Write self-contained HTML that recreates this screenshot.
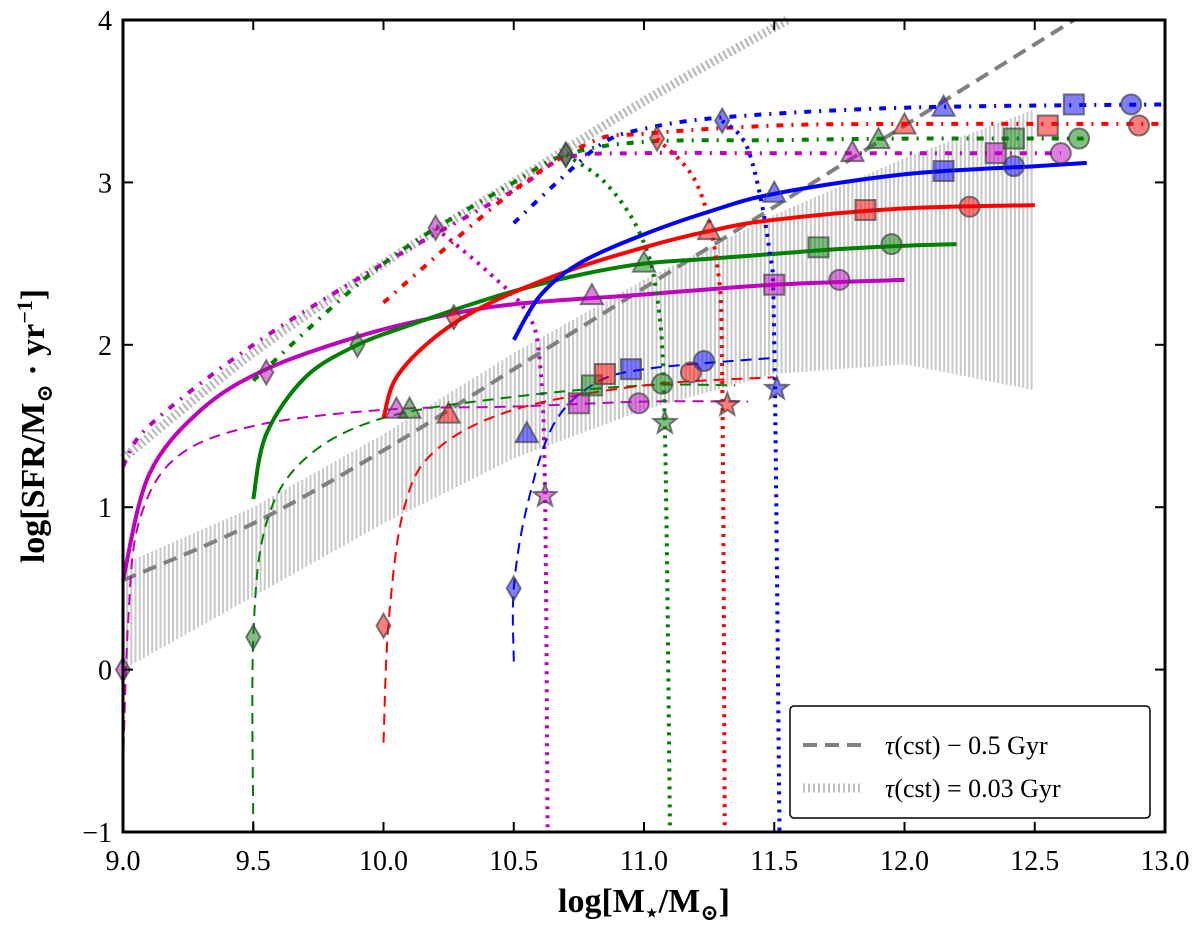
<!DOCTYPE html>
<html><head><meta charset="utf-8"><style>
html,body{margin:0;padding:0;background:#fff;}
svg{display:block;font-family:"Liberation Serif","DejaVu Serif",serif;}
</style></head><body>
<svg id="chart" width="1200" height="929" viewBox="0 0 1200 929" xmlns="http://www.w3.org/2000/svg">
<g id="band"></g>
<g id="lines"></g>
<g id="marks"></g>
<rect x="123" y="20" width="1042" height="812" fill="none" stroke="#000" stroke-width="3"/>
<g id="ticks"></g>
<text x="644" y="912" text-anchor="middle" font-size="34" font-weight="bold">log[M<tspan font-size="22" dy="8">⋆</tspan><tspan dy="-8">/M</tspan><tspan font-size="22" dy="8">⊙</tspan><tspan dy="-8">]</tspan></text>
<text transform="translate(44,426) rotate(-90)" text-anchor="middle" font-size="34" font-weight="bold">log[SFR/M<tspan font-size="22" dy="8">⊙</tspan><tspan dy="-8"> · yr</tspan><tspan font-size="22" dy="-12">−1</tspan><tspan dy="12">]</tspan></text>
<g>
<rect x="790" y="706" width="360" height="112" rx="4" fill="#fff" stroke="#000" stroke-width="1.5"/>
<line x1="803" y1="745" x2="863" y2="745" stroke="#808080" stroke-width="4" stroke-dasharray="14,8"/>
<text x="885" y="754" font-size="26"><tspan font-style="italic">τ</tspan>(cst) − 0.5 Gyr</text>
<line x1="803" y1="788" x2="863" y2="788" stroke="#c0c0c0" stroke-width="9" stroke-dasharray="2,3"/>
<text x="885" y="797" font-size="26"><tspan font-style="italic">τ</tspan>(cst) = 0.03 Gyr</text>
</g>
</svg>
<script>
// ---- data ----
const xTicks = [9.0, 9.5, 10.0, 10.5, 11.0, 11.5, 12.0, 12.5, 13.0];
const xTickLabels = ["9.0","9.5","10.0","10.5","11.0","11.5","12.0","12.5","13.0"];
const yTicks = [-1, 0, 1, 2, 3, 4];
const yTickLabels = ["−1","0","1","2","3","4"];
const bandX = [9.0, 9.5, 10.0, 10.5, 11.0, 11.5, 12.0, 12.5];
const bandLow = [0.0, 0.45, 0.9, 1.3, 1.6, 1.82, 1.88, 1.72];
const bandHigh = [0.65, 1.0, 1.45, 1.95, 2.4, 2.8, 3.15, 3.45];
const grayDashed = [[9.0,0.55],[9.5,0.9],[10,1.35],[10.5,1.85],[11,2.35],[11.5,2.85],[12,3.35],[12.65,4.0]];
const grayDotted = [[9.0,1.3],[9.5,1.95],[10,2.5],[10.5,3.0],[11,3.5],[11.55,4.0]];
const colors = {m:"#bf00bf", g:"#008000", r:"#ff0000", b:"#0000ff"};
const solid = {
 m:[[9.0,0.55],[9.1,1.2],[9.3,1.6],[9.55,1.85],[9.9,2.05],[10.2,2.17],[10.5,2.25],[11,2.31],[11.5,2.37],[12,2.4]],
 g:[[9.5,1.05],[9.55,1.45],[9.7,1.8],[9.9,2.0],[10.1,2.12],[10.3,2.23],[10.5,2.33],[10.75,2.43],[11,2.5],[11.25,2.53],[11.5,2.56],[11.75,2.59],[12,2.61],[12.2,2.62]],
 r:[[10,1.55],[10.05,1.8],[10.2,2.05],[10.4,2.25],[10.7,2.45],[11,2.6],[11.25,2.7],[11.5,2.77],[12,2.84],[12.5,2.86]],
 b:[[10.5,2.03],[10.6,2.3],[10.75,2.5],[11,2.68],[11.25,2.82],[11.5,2.93],[12,3.05],[12.5,3.1],[12.7,3.12]]
};
const dashdot = {
 m:[[9.0,1.25],[9.1,1.5],[9.5,2.0],[10,2.5],[10.5,2.95],[10.7,3.15],[11,3.18],[11.5,3.18],[12.6,3.18]],
 g:[[9.5,1.78],[10,2.5],[10.5,3.0],[10.7,3.17],[11,3.25],[11.5,3.26],[12,3.27],[12.7,3.27]],
 r:[[10,2.26],[10.5,2.95],[10.8,3.25],[11,3.3],[11.5,3.35],[12,3.36],[13,3.36]],
 b:[[10.5,2.75],[10.7,3.05],[10.85,3.25],[11,3.33],[11.3,3.4],[12,3.46],[13,3.48]]
};
const dotted = {
 m:[[10.2,2.72],[10.4,2.45],[10.55,2.2],[10.6,1.9],[10.62,1.1],[10.63,-1]],
 g:[[10.7,3.17],[10.85,3.0],[10.98,2.7],[11.05,2.3],[11.08,1.5],[11.1,-1]],
 r:[[11.05,3.27],[11.2,3.0],[11.28,2.5],[11.3,1.8],[11.31,-1]],
 b:[[11.3,3.38],[11.4,3.2],[11.48,2.6],[11.5,2.0],[11.52,-1]]
};
const dashed = {
 m:[[9.0,-0.6],[9.02,0.3],[9.06,0.9],[9.2,1.3],[9.5,1.5],[10,1.6],[10.5,1.62],[11,1.65],[11.4,1.65]],
 g:[[9.5,-1],[9.5,0.2],[9.55,0.9],[9.7,1.3],[10,1.55],[10.5,1.68],[11,1.75],[11.35,1.75]],
 r:[[10,-0.45],[10.02,0.3],[10.08,1.0],[10.2,1.35],[10.5,1.6],[11,1.75],[11.5,1.8]],
 b:[[10.5,0.05],[10.5,0.5],[10.55,1.0],[10.65,1.5],[10.8,1.75],[11,1.85],[11.5,1.92]]
};
const markers = [
 ["m","diamond",9.0,0.0],["m","diamond",9.55,1.83],["m","diamond",10.2,2.72],["m","diamond",10.7,3.17],
 ["m","triangle",10.8,2.3],["m","square",11.5,2.37],["m","circle",11.75,2.4],
 ["m","triangle",11.8,3.18],["m","square",12.35,3.18],["m","circle",12.6,3.18],
 ["m","triangle",10.05,1.6],["m","square",10.75,1.64],["m","circle",10.98,1.64],["m","star",10.62,1.07],
 ["g","diamond",9.5,0.2],["g","diamond",9.9,2.0],["g","diamond",10.7,3.17],
 ["g","triangle",11.0,2.5],["g","square",11.67,2.6],["g","circle",11.95,2.62],
 ["g","triangle",11.9,3.26],["g","square",12.42,3.27],["g","circle",12.67,3.27],
 ["g","triangle",10.1,1.6],["g","square",10.8,1.75],["g","circle",11.07,1.76],["g","star",11.08,1.52],
 ["r","diamond",10.0,0.27],["r","diamond",10.27,2.17],["r","diamond",11.05,3.27],
 ["r","triangle",11.25,2.7],["r","square",11.85,2.83],["r","circle",12.25,2.85],
 ["r","triangle",12.0,3.35],["r","square",12.55,3.35],["r","circle",12.9,3.35],
 ["r","triangle",10.25,1.57],["r","square",10.85,1.82],["r","circle",11.18,1.83],["r","star",11.32,1.63],
 ["b","diamond",10.5,0.5],["b","diamond",11.3,3.38],
 ["b","triangle",11.5,2.93],["b","square",12.15,3.07],["b","circle",12.42,3.1],
 ["b","triangle",12.15,3.46],["b","square",12.65,3.48],["b","circle",12.87,3.48],
 ["b","triangle",10.55,1.45],["b","square",10.95,1.85],["b","circle",11.23,1.9],["b","star",11.51,1.73]
];
// ---- scales ----
const X = m => 123 + (m - 9) * 260.5;
const Y = s => 20 + (4 - s) * 162.4;
const NS = "http://www.w3.org/2000/svg";
function mk(tag, parent, attrs){const e=document.createElementNS(NS,tag);for(const k in attrs)e.setAttribute(k,attrs[k]);parent.appendChild(e);return e;}
function pathD(pts){
 const p=pts.map(q=>[X(q[0]),Y(q[1])]);
 let d="M"+p[0][0].toFixed(1)+","+p[0][1].toFixed(1);
 for(let i=0;i<p.length-1;i++){
  const p0=p[Math.max(0,i-1)],p1=p[i],p2=p[i+1],p3=p[Math.min(p.length-1,i+2)];
  const c1=[p1[0]+(p2[0]-p0[0])/6,p1[1]+(p2[1]-p0[1])/6];
  const c2=[p2[0]-(p3[0]-p1[0])/6,p2[1]-(p3[1]-p1[1])/6];
  d+=" C"+c1.map(v=>v.toFixed(1))+" "+c2.map(v=>v.toFixed(1))+" "+p2.map(v=>v.toFixed(1));
 }
 return d;
}
function interp(xs,ys,x){for(let i=0;i<xs.length-1;i++){if(x>=xs[i]&&x<=xs[i+1]){const t=(x-xs[i])/(xs[i+1]-xs[i]);return ys[i]+t*(ys[i+1]-ys[i]);}}return ys[ys.length-1];}
const band=document.getElementById("band");
for(let m=bandX[0]; m<=bandX[bandX.length-1]+1e-9; m+=0.016){
 const ln=mk("line",band,{x1:X(m),x2:X(m),y1:Y(interp(bandX,bandLow,m)),y2:Y(interp(bandX,bandHigh,m)),stroke:"#c8c8c8","stroke-width":2});
 
 
}
const lines=document.getElementById("lines");
let e=mk("path",lines,{d:pathD(grayDashed),fill:"none",stroke:"#808080","stroke-width":4,"stroke-dasharray":"14,8"});


e=mk("path",lines,{d:pathD(grayDotted),fill:"none",stroke:"#b4b4b4","stroke-width":9,"stroke-dasharray":"2,3"});


for(const c of ["m","g","r","b"]){
 e=mk("path",lines,{d:pathD(dashed[c]),fill:"none",stroke:colors[c],"stroke-width":2,"stroke-dasharray":"11,7"});
 
 
 e=mk("path",lines,{d:pathD(dotted[c]),fill:"none",stroke:colors[c],"stroke-width":4,"stroke-dasharray":"3,6"});
 
 
 e=mk("path",lines,{d:pathD(dashdot[c]),fill:"none",stroke:colors[c],"stroke-width":4,"stroke-dasharray":"7,8,2,8"});
 
 
 e=mk("path",lines,{d:pathD(solid[c]),fill:"none",stroke:colors[c],"stroke-width":4});
 
 
}
const marks=document.getElementById("marks");
const fills={m:"#bf00bf",g:"#008000",r:"#ff0000",b:"#0000ff"};
for(const [c,shape,mx,my] of markers){
 const x=X(mx),y=Y(my);const st={fill:fills[c],stroke:"#444","stroke-width":2,"fill-opacity":0.5,"stroke-opacity":0.7};
 let el;
 if(shape==="circle") el=mk("circle",marks,Object.assign({cx:x,cy:y,r:10},st));
 else if(shape==="square") el=mk("rect",marks,Object.assign({x:x-10,y:y-10,width:20,height:20},st));
 else if(shape==="triangle") el=mk("polygon",marks,Object.assign({points:`${x},${y-12} ${x+11},${y+8} ${x-11},${y+8}`},st));
 else if(shape==="diamond") el=mk("polygon",marks,Object.assign({points:`${x},${y-12} ${x+7},${y} ${x},${y+12} ${x-7},${y}`},st));
 else {let pts=[];for(let k=0;k<10;k++){const r=k%2?5:12,a=-Math.PI/2+k*Math.PI/5;pts.push((x+r*Math.cos(a)).toFixed(1)+","+(y+r*Math.sin(a)).toFixed(1));}
  el=mk("polygon",marks,Object.assign({points:pts.join(" ")},st));}
 
 
}
const ticks=document.getElementById("ticks");
xTicks.forEach((t,i)=>{
 let a=mk("line",ticks,{x1:X(t),x2:X(t),y1:832,y2:822,stroke:"#000","stroke-width":2});
 
 
 a=mk("line",ticks,{x1:X(t),x2:X(t),y1:20,y2:30,stroke:"#000","stroke-width":2});
 
 
 const tx=mk("text",ticks,{x:X(t),y:870,"text-anchor":"middle","font-size":28});
 tx.textContent=xTickLabels[i];
 
 
});
yTicks.forEach((t,i)=>{
 let a=mk("line",ticks,{x1:123,x2:133,y1:Y(t),y2:Y(t),stroke:"#000","stroke-width":2});
 
 
 a=mk("line",ticks,{x1:1155,x2:1165,y1:Y(t),y2:Y(t),stroke:"#000","stroke-width":2});
 
 
 const tx=mk("text",ticks,{x:112,y:Y(t)+10,"text-anchor":"end","font-size":28});
 tx.textContent=yTickLabels[i];
 
 
});
</script>
</body></html>
